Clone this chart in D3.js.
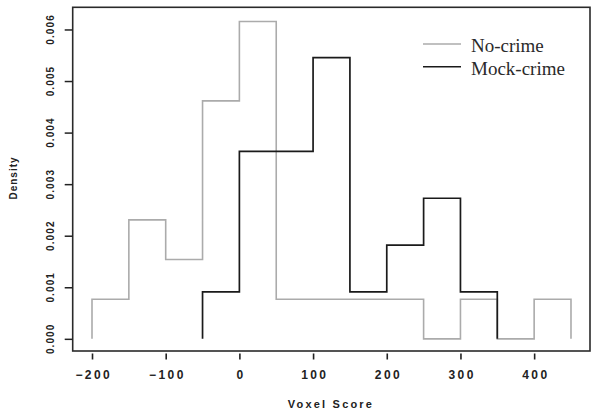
<!DOCTYPE html>
<html>
<head>
<meta charset="utf-8">
<script src="https://cdn.jsdelivr.net/npm/d3@7"></script>
<style>
  html, body { margin: 0; padding: 0; background: #fff; }
  svg { display: block; }
</style>
</head>
<body>
<svg id="chart" width="600" height="414"></svg>
<script>
// ---- data ----
const binWidth = 50;
const noCrimeStart = -200;
const noCrimeDensity = [0.000769, 0.002308, 0.001538, 0.004615, 0.006154, 0.000769, 0.000769, 0.000769, 0.000769, 0, 0.000769, 0, 0.000769];
const mockCrimeStart = -50;
const mockCrimeDensity = [0.000909, 0.003636, 0.003636, 0.005455, 0.000909, 0.001818, 0.002727, 0.000909];
const xTicks = [-200, -100, 0, 100, 200, 300, 400];
const yTicks = [0, 0.001, 0.002, 0.003, 0.004, 0.005, 0.006];
const seriesNames = ["No-crime", "Mock-crime"];
const seriesColors = ["#ababab", "#1a1a1a"];

// ---- layout ----
const svg = d3.select("#chart");
const mLeft = 72.7, mRight = 590, mTop = 7.3, mBottom = 351;
const x = d3.scaleLinear().domain([-226.2, 475.8]).range([mLeft, mRight]);
const y = d3.scaleLinear().domain([-0.000236, 0.00643]).range([mBottom, mTop]);

function stepPoints(start, dens) {
  const pts = [[start, 0]];
  dens.forEach((d, i) => {
    pts.push([start + i * binWidth, d]);
    pts.push([start + (i + 1) * binWidth, d]);
  });
  pts.push([start + dens.length * binWidth, 0]);
  return pts;
}
const line = d3.line().x(d => x(d[0])).y(d => y(d[1]));

const series = [
  { name: seriesNames[0], color: seriesColors[0], pts: stepPoints(noCrimeStart, noCrimeDensity), w: 1.6 },
  { name: seriesNames[1], color: seriesColors[1], pts: stepPoints(mockCrimeStart, mockCrimeDensity), w: 1.7 }
];
svg.selectAll("path.hist").data(series).join("path")
  .attr("class", "hist")
  .attr("d", d => line(d.pts))
  .attr("fill", "none")
  .attr("stroke", d => d.color)
  .attr("stroke-width", d => d.w);

// frame
svg.append("rect")
  .attr("x", mLeft).attr("y", mTop)
  .attr("width", mRight - mLeft).attr("height", mBottom - mTop)
  .attr("fill", "none").attr("stroke", "#2a2a2a").attr("stroke-width", 1.6);

// x axis
const xAxis = d3.axisBottom(x).tickValues(xTicks).tickSize(6).tickPadding(11).tickFormat(d3.format("d"));
const gx = svg.append("g").attr("transform", `translate(0,${mBottom + 2.5})`).call(xAxis);
gx.select(".domain").remove();
gx.selectAll(".tick line").attr("stroke", "#222").attr("stroke-width", 1.6);
gx.selectAll(".tick text")
  .attr("font-family", "Liberation Sans, Arial, sans-serif")
  .attr("font-weight", "bold").attr("font-size", 12)
  .attr("letter-spacing", "2.4px")
  .attr("dx", "1.2px")
  .attr("fill", "#222");

// y axis
const yAxis = d3.axisLeft(y).tickValues(yTicks).tickSize(8).tickFormat(d3.format(".3f"));
const gy = svg.append("g").attr("transform", `translate(${mLeft},0)`).call(yAxis);
gy.select(".domain").remove();
gy.selectAll(".tick line").attr("stroke", "#222").attr("stroke-width", 1.5);
gy.selectAll(".tick text")
  .attr("font-family", "Liberation Sans, Arial, sans-serif")
  .attr("font-weight", "bold").attr("font-size", 10)
  .attr("letter-spacing", "1.1px")
  .attr("fill", "#222")
  .attr("text-anchor", "middle")
  .attr("dy", 0)
  .attr("x", 0.5)
  .attr("transform", "translate(-19,0) rotate(-90)");

// axis titles
svg.append("text")
  .attr("x", 331).attr("y", 407.5)
  .attr("text-anchor", "middle")
  .attr("font-family", "Liberation Sans, Arial, sans-serif")
  .attr("font-weight", "bold").attr("font-size", 11)
  .attr("letter-spacing", "2.2px")
  .attr("fill", "#222")
  .text("Voxel Score");
svg.append("text")
  .attr("transform", "translate(17,178) rotate(-90)")
  .attr("text-anchor", "middle")
  .attr("font-family", "Liberation Sans, Arial, sans-serif")
  .attr("font-weight", "bold").attr("font-size", 10)
  .attr("letter-spacing", "1px")
  .attr("fill", "#222")
  .text("Density");

// legend
const lg = svg.append("g");
series.forEach((s, i) => {
  const yy = 44 + i * 22.7;
  lg.append("line").attr("x1", 423).attr("x2", 461).attr("y1", yy).attr("y2", yy)
    .attr("stroke", s.color).attr("stroke-width", 1.6);
  lg.append("text").attr("x", 471).attr("y", yy + 8.3)
    .attr("font-family", "Liberation Serif, Times New Roman, serif")
    .attr("font-size", 19).attr("fill", "#2a2a2a")
    .text(s.name);
});
</script>
</body>
</html>
